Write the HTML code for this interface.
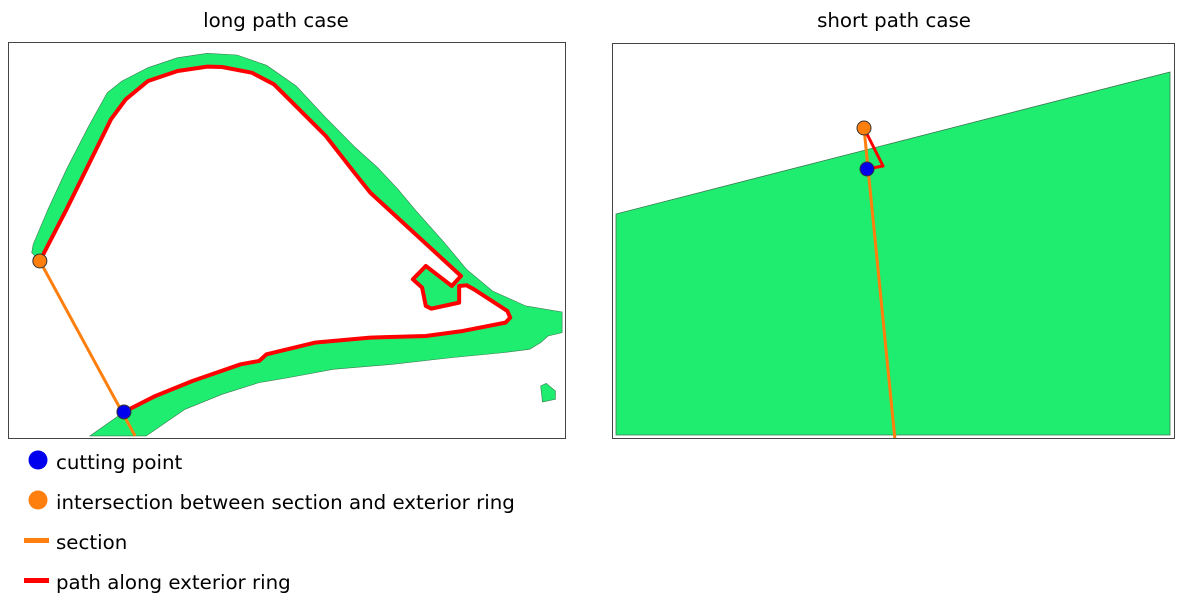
<!DOCTYPE html>
<html><head><meta charset="utf-8"><style>
body{margin:0;background:#fff;}
svg{display:block;font-family:"DejaVu Sans","Liberation Sans",sans-serif;}
</style></head><body>
<svg width="1182" height="600" viewBox="0 0 1182 600">
<defs>
<clipPath id="cl"><rect x="8" y="42" width="557" height="396"/></clipPath>
<clipPath id="cr"><rect x="612" y="43" width="562" height="395"/></clipPath>
</defs>
<text x="276" y="27" font-size="19.8" text-anchor="middle">long path case</text>
<text x="894" y="27" font-size="19.8" text-anchor="middle">short path case</text>

<g clip-path="url(#cl)">
<g id="leftg" transform="translate(-0.15,39.33) scale(0.3704,0.3333)"></g>
</g>
<rect x="8.5" y="42.5" width="557" height="396" fill="none" stroke="#444" stroke-width="1"/>

<g clip-path="url(#cr)">
<polygon points="616,214 1170,72 1170,435 616,435" fill="#1fed70" stroke="#3a7a50" stroke-width="0.8"/>
<line x1="864" y1="128" x2="895" y2="440" stroke="#ff7f0e" stroke-width="3"/>
<polyline points="864,128 883,166 867,169" fill="none" stroke="#ff0000" stroke-width="3" stroke-linejoin="round"/>
<circle cx="864" cy="128" r="7" fill="#ff7f0e" stroke="#333"/>
<circle cx="867" cy="169" r="7" fill="#0000ee" stroke="#333"/>
</g>
<rect x="612.5" y="43.5" width="562" height="395" fill="none" stroke="#444" stroke-width="1"/>

<g font-size="19.8">
<circle cx="38" cy="460" r="9.5" fill="#0000ee"/>
<text x="56" y="469">cutting point</text>
<circle cx="38" cy="500" r="9.5" fill="#ff7f0e"/>
<text x="56" y="509">intersection between section and exterior ring</text>
<rect x="24" y="538" width="25" height="5" fill="#ff7f0e"/>
<text x="56" y="549">section</text>
<rect x="24" y="578" width="25" height="5" fill="#ff0000"/>
<text x="56" y="589">path along exterior ring</text>
</g>
</svg>
<script>
const outerEdge=[[86,640],[90,615],[130,510],[180,390],[240,260],[290,160],[330,125],[400,85],[480,55],[560,42],[640,47],[720,78],[800,140],[880,235],[960,325],[1020,385],[1075,450],[1120,510],[1200,610],[1260,690],[1330,755],[1420,800],[1518,818],[1518,880],[1480,890],[1460,910],[1430,930],[1360,940],[1220,955],[1060,975],[900,990],[780,1015],[700,1030],[600,1065],[500,1110],[395,1190],[243,1190]];
const redPath=[[335,1118],[420,1070],[520,1025],[650,975],[700,965],[720,945],[850,910],[1000,895],[1150,890],[1250,875],[1365,850],[1378,835],[1370,815],[1280,750],[1260,738],[1240,740],[1240,790],[1165,808],[1150,800],[1140,745],[1115,720],[1150,680],[1220,740],[1245,710],[1000,460],[950,390],[880,290],[790,190],[740,135],[680,100],[600,83],[560,82],[480,95],[400,125],[340,180],[300,240],[240,375],[180,510],[108,665]];
const island=[[1460,1040],[1475,1032],[1500,1055],[1500,1080],[1465,1088]];
const sectionLine=[[108,665],[365,1190]];
const cutPt=[335,1118], interPt=[108,665];
const NS='http://www.w3.org/2000/svg';
const g=document.getElementById('leftg');
const pts=a=>a.map(p=>p.join(',')).join(' ');
function mk(tag,attrs){const e=document.createElementNS(NS,tag);for(const k in attrs)e.setAttribute(k,attrs[k]);g.appendChild(e);return e;}
let poly=mk('polygon',{points:pts(outerEdge.concat(redPath)),fill:'#1fed70',stroke:'#3a7a50','stroke-width':0.6,'vector-effect':'non-scaling-stroke'});


let isl=mk('polygon',{points:pts(island),fill:'#1fed70',stroke:'#3a7a50','stroke-width':0.6,'vector-effect':'non-scaling-stroke'});


let sec=mk('polyline',{points:pts(sectionLine),fill:'none',stroke:'#ff7f0e','stroke-width':3,'vector-effect':'non-scaling-stroke'});


let rp=mk('polyline',{points:pts(redPath),fill:'none',stroke:'#ff0000','stroke-width':4,'stroke-linejoin':'round','vector-effect':'non-scaling-stroke'});


let o=mk('ellipse',{cx:interPt[0],cy:interPt[1],rx:7*2.7,ry:7*3,fill:'#ff7f0e',stroke:'#333','stroke-width':1,'vector-effect':'non-scaling-stroke'});


let b=mk('ellipse',{cx:cutPt[0],cy:cutPt[1],rx:7*2.7,ry:7*3,fill:'#0000ee',stroke:'#333','stroke-width':1,'vector-effect':'non-scaling-stroke'});


</script>
</body></html>
